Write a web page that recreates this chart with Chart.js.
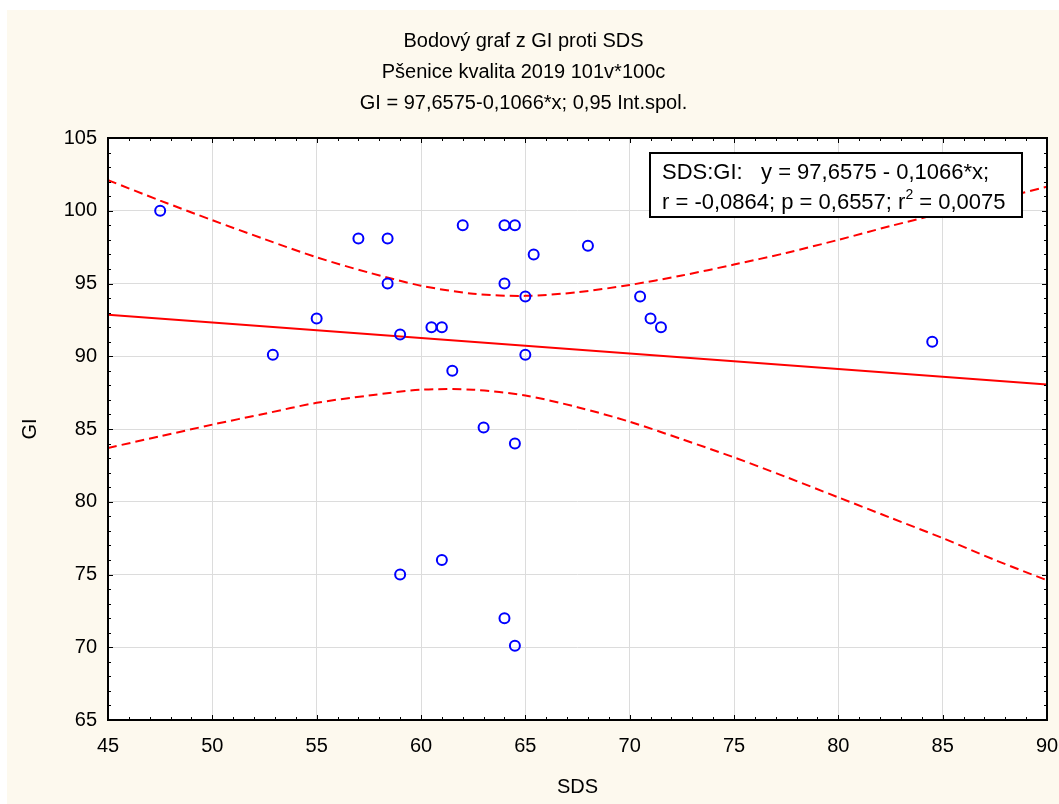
<!DOCTYPE html>
<html>
<head>
<meta charset="utf-8">
<script src="https://cdn.jsdelivr.net/npm/chart.js@4/dist/chart.umd.min.js"></script>
<style>
  html, body { margin: 0; padding: 0; background: #fff; }
  #wrap { width: 1059px; height: 804px; }
</style>
</head>
<body>
<div id="wrap"><canvas id="scatter"></canvas></div>
<script>
// Messwerte (SDS, GI)
const sds = [47.5, 52.9, 55, 57, 58.4, 58.4, 59, 59, 60.5, 61, 61, 61.5, 62, 63, 64, 64, 64, 64.5, 64.5, 64.5, 65, 65, 65.4, 68, 70.5, 71, 71.5, 84.5];
const gi  = [100, 90.1, 92.6, 98.1, 98.1, 95, 91.5, 75, 92, 92, 76, 89, 99, 85.1, 99, 95, 72, 99, 84, 70.1, 94.1, 90.1, 97, 97.6, 94.1, 92.6, 92, 91];

// Regressionsgerade GI = 97,6575 - 0,1066*x (Endpunkte)
const fitX = [45, 90];
const fitY = [92.86, 88.06];

// 0,95 Konfidenzband
const bandX     = [45, 47.5, 50, 52.5, 55, 57.5, 60, 62.5, 65, 67.5, 70, 72.5, 75, 77.5, 80, 82.5, 85, 87.5, 90];
const bandUpper = [102.1, 100.7, 99.35, 98.05, 96.8, 95.75, 94.85, 94.3, 94.15, 94.4, 94.9, 95.55, 96.3, 97.1, 98.0, 98.95, 99.85, 100.75, 101.65];
const bandLower = [83.7, 84.5, 85.3, 86.05, 86.8, 87.3, 87.7, 87.7, 87.3, 86.5, 85.5, 84.3, 83.05, 81.7, 80.3, 78.9, 77.5, 76.0, 74.6];

const titleLines = ['Bodový graf z GI proti SDS', 'Pšenice kvalita 2019 101v*100c', 'GI = 97,6575-0,1066*x; 0,95 Int.spol.'];
const legendLines = ['SDS:GI:   y = 97,6575 - 0,1066*x;', 'r = -0,0864; p = 0,6557; r', '2', ' = 0,0075'];

const FONT = "'Liberation Sans', Arial, sans-serif";
const toXY = (xs, ys) => xs.map((x, i) => ({ x: x, y: ys[i] }));

// Hintergrund: cremefarbene Flaeche, weisser Plotbereich
const backgroundPlugin = {
  id: 'background',
  beforeDraw(chart) {
    const { ctx, chartArea: a } = chart;
    ctx.save();
    ctx.fillStyle = '#ffffff';
    ctx.fillRect(0, 0, chart.width, chart.height);
    ctx.fillStyle = '#fdf9ee';
    ctx.fillRect(7, 10, chart.width - 7, chart.height - 10);
    ctx.fillStyle = '#ffffff';
    ctx.fillRect(a.left, a.top, a.right - a.left, a.bottom - a.top);
    ctx.restore();
  }
};

// Rahmen mit Teilstrichen nach innen auf allen vier Seiten
const framePlugin = {
  id: 'frame',
  afterDraw(chart) {
    const { ctx, chartArea: a, scales } = chart;
    ctx.save();
    ctx.strokeStyle = '#000';
    ctx.lineWidth = 1;
    for (let v = 45; v <= 90; v++) {
      const px = Math.round(scales.x.getPixelForValue(v)) + 0.5;
      const len = v % 5 === 0 ? 5 : 3;
      ctx.beginPath();
      ctx.moveTo(px, a.bottom); ctx.lineTo(px, a.bottom - len);
      ctx.moveTo(px, a.top); ctx.lineTo(px, a.top + len);
      ctx.stroke();
    }
    for (let v = 65; v <= 105; v++) {
      const py = Math.round(scales.y.getPixelForValue(v)) + 0.5;
      const len = v % 5 === 0 ? 5 : 3;
      ctx.beginPath();
      ctx.moveTo(a.left, py); ctx.lineTo(a.left + len, py);
      ctx.moveTo(a.right, py); ctx.lineTo(a.right - len, py);
      ctx.stroke();
    }
    ctx.lineWidth = 2;
    ctx.strokeRect(a.left, a.top, a.right - a.left, a.bottom - a.top);
    ctx.restore();
  }
};

// Textfeld mit Regressionsstatistik
const statBoxPlugin = {
  id: 'statBox',
  afterDraw(chart) {
    const { ctx } = chart;
    const x0 = 650, y0 = 153, w = 372, h = 64;
    ctx.save();
    ctx.fillStyle = '#fff';
    ctx.fillRect(x0, y0, w, h);
    ctx.strokeStyle = '#000';
    ctx.lineWidth = 2;
    ctx.strokeRect(x0, y0, w, h);
    ctx.fillStyle = '#000';
    ctx.textBaseline = 'alphabetic';
    ctx.font = '22px ' + FONT;
    ctx.fillText(legendLines[0], x0 + 12, y0 + 26);
    let tx = x0 + 12;
    ctx.fillText(legendLines[1], tx, y0 + 56);
    tx += ctx.measureText(legendLines[1]).width;
    ctx.font = '14px ' + FONT;
    ctx.fillText(legendLines[2], tx, y0 + 46);
    tx += ctx.measureText(legendLines[2]).width;
    ctx.font = '22px ' + FONT;
    ctx.fillText(legendLines[3], tx, y0 + 56);
    ctx.restore();
  }
};

new Chart(document.getElementById('scatter'), {
  type: 'scatter',
  data: {
    datasets: [
      {
        label: 'GI',
        data: toXY(sds, gi),
        pointStyle: 'circle',
        pointRadius: 5,
        pointBorderWidth: 2,
        borderColor: '#0000ff',
        backgroundColor: 'rgba(0,0,0,0)'
      },
      {
        type: 'line',
        label: 'fit',
        data: toXY(fitX, fitY),
        borderColor: '#ff0000',
        borderWidth: 2,
        pointRadius: 0,
        fill: false
      },
      {
        type: 'line',
        label: 'upper',
        data: toXY(bandX, bandUpper),
        borderColor: '#ff0000',
        borderWidth: 2,
        borderDash: [9, 5],
        pointRadius: 0,
        tension: 0.3,
        fill: false
      },
      {
        type: 'line',
        label: 'lower',
        data: toXY(bandX, bandLower),
        borderColor: '#ff0000',
        borderWidth: 2,
        borderDash: [9, 5],
        pointRadius: 0,
        tension: 0.3,
        fill: false
      }
    ]
  },
  options: {
    responsive: true,
    maintainAspectRatio: false,
    animation: false,
    layout: { padding: { top: 0, left: 0, right: 12, bottom: 0 } },
    plugins: {
      legend: { display: false },
      tooltip: { enabled: false },
      title: {
        display: true,
        text: titleLines,
        color: '#000',
        font: { family: FONT, size: 20, weight: 'normal', lineHeight: 31 / 20 },
        padding: { top: 26, bottom: 19 }
      }
    },
    scales: {
      x: {
        type: 'linear',
        min: 45,
        max: 90,
        afterFit(scale) { scale.height = 84; scale.paddingLeft = 0; scale.paddingRight = 0; },
        ticks: { stepSize: 5, color: '#000', padding: 14, font: { family: FONT, size: 20 } },
        grid: { color: '#dcdcdc', drawTicks: false },
        border: { display: false },
        title: { display: true, text: 'SDS', color: '#000', font: { family: FONT, size: 20 }, padding: { top: 0, bottom: 5 } }
      },
      y: {
        type: 'linear',
        min: 65,
        max: 105,
        afterFit(scale) { scale.width = 108; scale.paddingTop = 0; scale.paddingBottom = 0; },
        ticks: { stepSize: 5, color: '#000', padding: 11, font: { family: FONT, size: 20 } },
        grid: { color: '#dcdcdc', drawTicks: false },
        border: { display: false },
        title: { display: true, text: 'GI', color: '#000', font: { family: FONT, size: 20 }, padding: { top: 18, bottom: 0 } }
      }
    }
  },
  plugins: [backgroundPlugin, framePlugin, statBoxPlugin]
});
</script>
</body>
</html>
